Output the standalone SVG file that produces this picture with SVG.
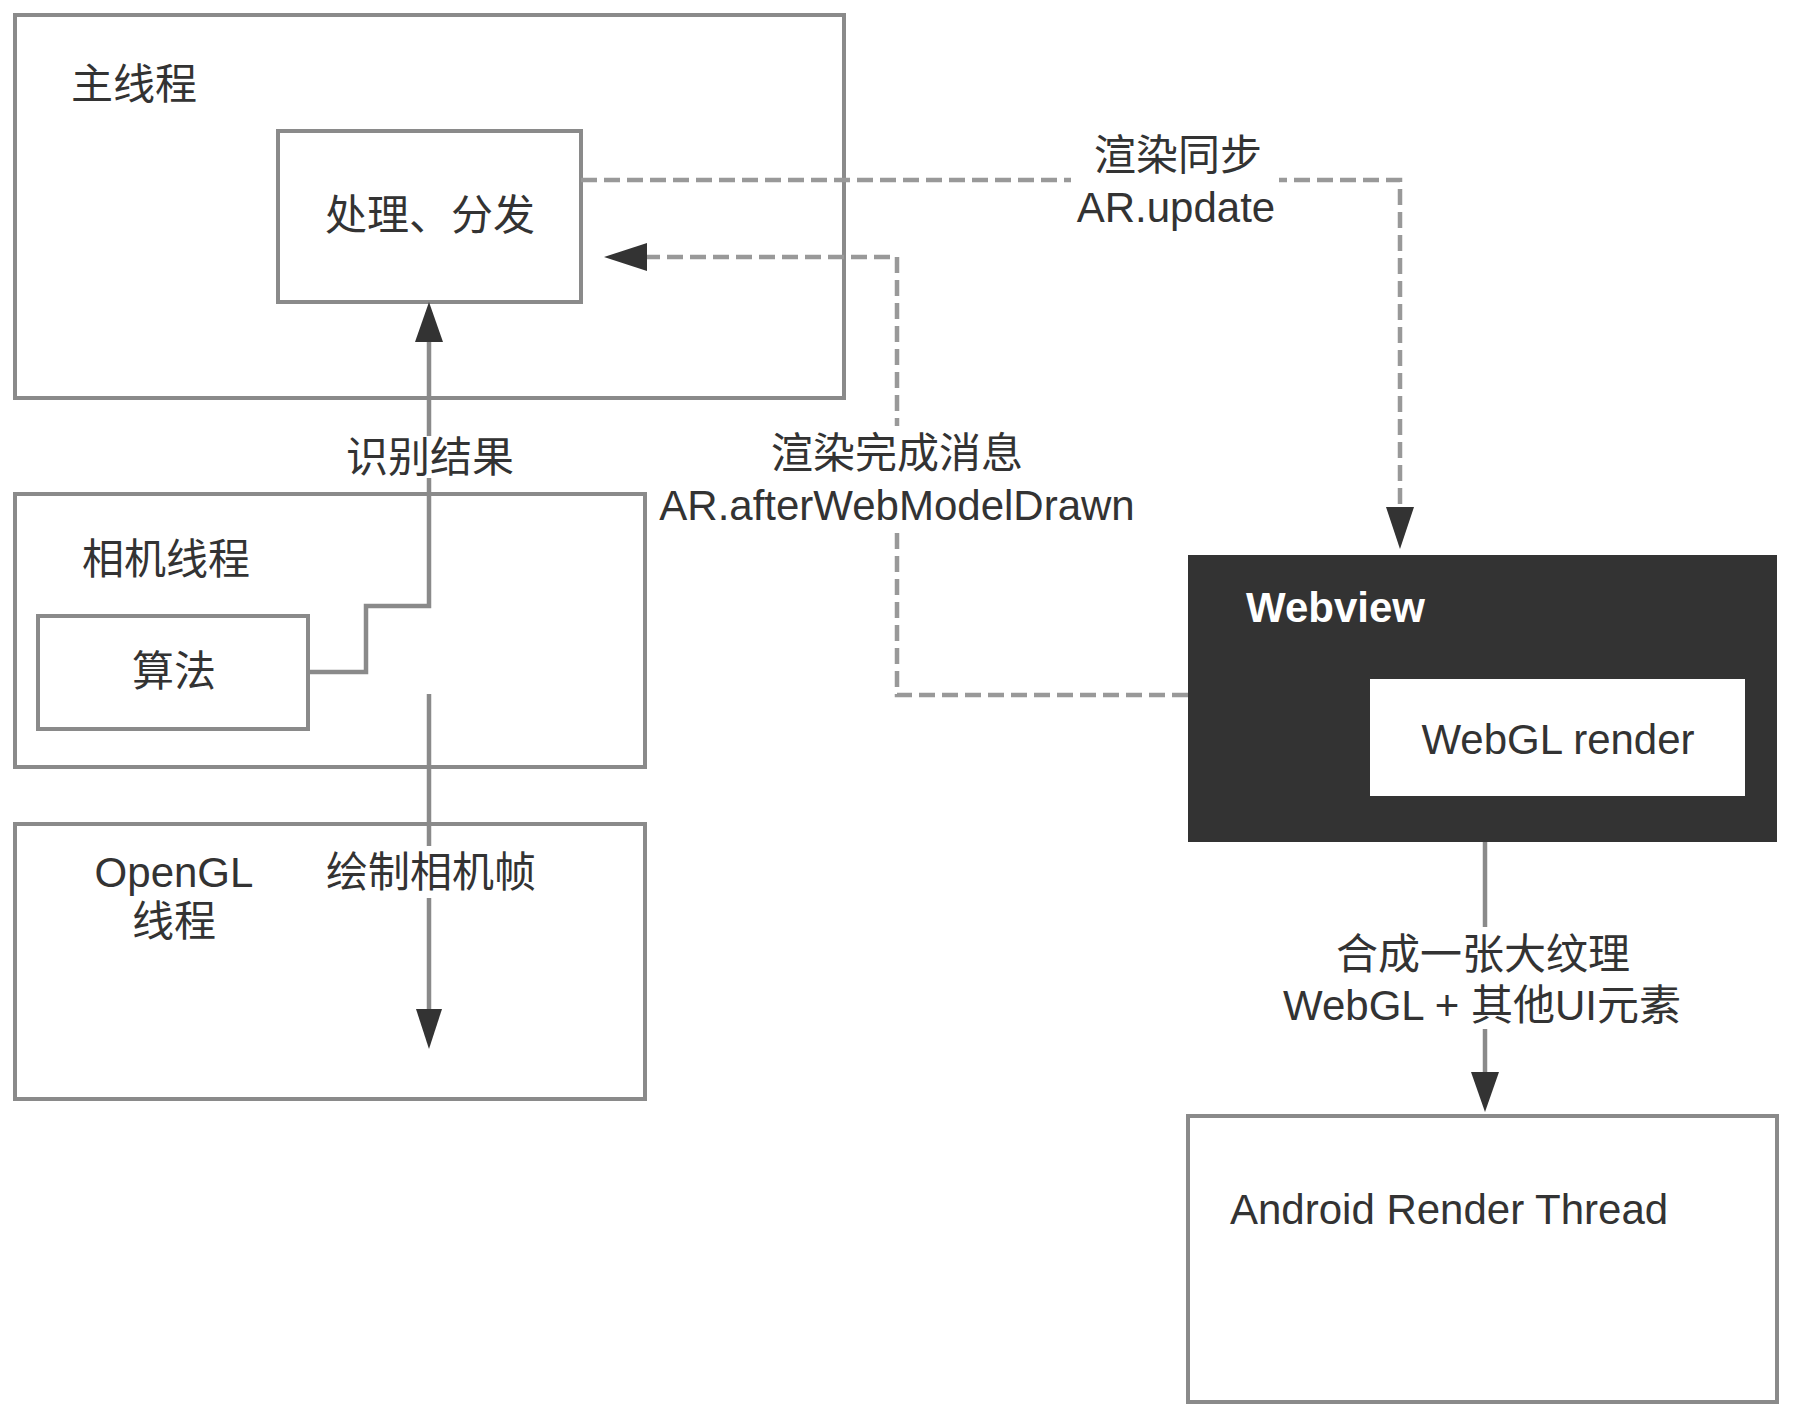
<svg xmlns="http://www.w3.org/2000/svg" width="1793" height="1418" viewBox="0 0 1793 1418">
<style>
.box{fill:#fff;stroke:#8a8a8a;stroke-width:4}
.dark{fill:#333;stroke:none}
.t{font-family:"Liberation Sans","Noto Sans CJK SC",sans-serif;font-size:42px;fill:#333}
.m{text-anchor:middle;dominant-baseline:central}
.s{text-anchor:start;dominant-baseline:central}
.ln{fill:none;stroke:#8a8a8a;stroke-width:4.5}
.dash{fill:none;stroke:#999;stroke-width:4.5;stroke-dasharray:16 7}
.ah{fill:#333}
.bg{fill:#fff}
</style>
<rect width="1793" height="1418" fill="#fff"/>
<g id="main-thread">
<rect class="box" x="15" y="15" width="829" height="383"/>
<text class="t s" x="71" y="84">主线程</text>
</g>
<g id="process">
<rect class="box" x="278" y="131" width="303" height="171"/>
<text class="t m" x="430" y="215">处理、分发</text>
</g>
<g id="camera-thread">
<rect class="box" x="15" y="494" width="630" height="273"/>
<text class="t s" x="82" y="559">相机线程</text>
</g>
<g id="algorithm">
<rect class="box" x="38" y="616" width="270" height="113"/>
<text class="t m" x="174" y="671">算法</text>
</g>
<g id="opengl-thread">
<rect class="box" x="15" y="824" width="630" height="275"/>
<text class="t m" x="174" y="872">OpenGL</text>
<text class="t m" x="174" y="921">线程</text>
</g>
<g id="webview">
<rect class="dark" x="1188" y="555" width="589" height="287"/>
<text class="t s" x="1246" y="607" style="fill:#fff;font-weight:bold">Webview</text>
</g>
<g id="webgl-render">
<rect x="1370" y="679" width="375" height="117" fill="#fff"/>
<text class="t m" x="1558" y="739">WebGL render</text>
</g>
<g id="android-render">
<rect class="box" x="1188" y="1116" width="589" height="286"/>
<text class="t s" x="1230" y="1209">Android Render Thread</text>
</g>
<g id="connectors">
<!-- 算法 -> 处理、分发 -->
<path class="ln" d="M308,672 H366 V606 H429 V340"/>
<polygon class="ah" points="429,302 415,342 443,342"/>
<rect class="bg" x="340" y="436" width="178" height="42"/>
<text class="t m" x="430" y="457">识别结果</text>
<!-- down to OpenGL -->
<path class="ln" d="M429,694 V1010"/>
<polygon class="ah" points="429,1049 416,1009 442,1009"/>
<rect class="bg" x="326" y="846" width="210" height="52"/>
<text class="t m" x="431" y="872">绘制相机帧</text>
<!-- 渲染同步 -->
<path class="dash" d="M581,180 H1400 V508"/>
<polygon class="ah" points="1400,549 1386,507 1414,507"/>
<rect class="bg" x="1071" y="130" width="208" height="104"/>
<text class="t m" x="1178" y="155">渲染同步</text>
<text class="t m" x="1176" y="207">AR.update</text>
<!-- 渲染完成消息 -->
<path class="dash" d="M1188,695 H897 V257 H645"/>
<polygon class="ah" points="604,257 647,243 647,271"/>
<rect class="bg" x="652" y="426" width="490" height="104"/>
<text class="t m" x="897" y="453">渲染完成消息</text>
<text class="t m" x="897" y="505">AR.afterWebModelDrawn</text>
<!-- webview -> android -->
<path class="ln" d="M1485,842 V1074"/>
<polygon class="ah" points="1485,1112 1471,1072 1499,1072"/>
<rect class="bg" x="1280" y="927" width="406" height="102"/>
<text class="t m" x="1483" y="954">合成一张大纹理</text>
<text class="t m" x="1482" y="1005">WebGL + 其他UI元素</text>
</g>
</svg>
